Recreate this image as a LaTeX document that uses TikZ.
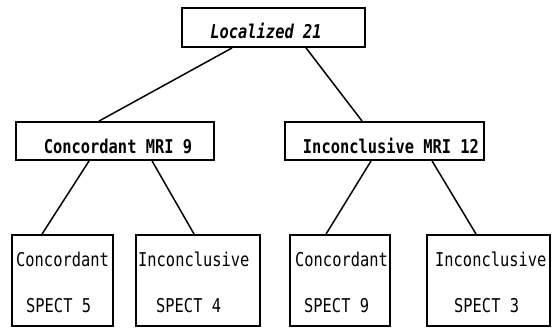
\documentclass[tikz,border=0pt]{standalone}
\usepackage{fontspec}
\newfontfamily\labfont[FakeStretch=0.81]{DejaVu Sans Mono}
\begin{document}
\begin{tikzpicture}[x=1pt,y=-1pt,
  box/.style={draw,line width=1.9pt,inner sep=0pt,anchor=center},
  conn/.style={line width=1.5pt},
  btxt/.style={inner sep=0pt,font=\labfont\bfseries\fontsize{19}{19}\selectfont},
  ltxt/.style={inner sep=0pt,anchor=west,font=\labfont\fontsize{19}{19}\selectfont}]
\useasboundingbox (0,0) rectangle (557,329);
% boxes
\node[box,minimum width=183pt,minimum height=39pt] (top) at (273.5,27.5) {};
\node[box,minimum width=198pt,minimum height=38pt] (m1) at (115,141) {};
\node[box,minimum width=199pt,minimum height=38pt] (m2) at (384.5,141) {};
\node[box,minimum width=101pt,minimum height=91pt] (b1) at (62.5,280.5) {};
\node[box,minimum width=124pt,minimum height=91pt] (b2) at (198,280.5) {};
\node[box,minimum width=100pt,minimum height=91pt] (b3) at (340,280.5) {};
\node[box,minimum width=123pt,minimum height=91pt] (b4) at (488.5,280.5) {};
% texts
\node[btxt] (ttop) at (266,31) {\itshape Localized 21};
\node[btxt] (tm1) at (118,146) {Concordant MRI 9};
\node[btxt] (tm2) at (391,146) {Inconclusive MRI 12};
\node[ltxt] (t1a) at (16,259) {Concordant};
\node[ltxt] (t1b) at (26,306) {SPECT 5};
\node[ltxt] (t2a) at (138,259) {Inconclusive};
\node[ltxt] (t2b) at (156,306) {SPECT 4};
\node[ltxt] (t3a) at (295,259) {Concordant};
\node[ltxt] (t3b) at (304,306) {SPECT 9};
\node[ltxt] (t4a) at (435,259) {Inconclusive};
\node[ltxt] (t4b) at (454,306) {SPECT 3};
% connectors
\draw[conn] ([xshift=51pt]top.south west) -- ([xshift=84pt]m1.north west);
\draw[conn] ([xshift=125pt]top.south west) -- ([xshift=78pt]m2.north west);
\draw[conn] ([xshift=74pt]m1.south west) -- ([xshift=31pt]b1.north west);
\draw[conn] ([xshift=137pt]m1.south west) -- ([xshift=59pt]b2.north west);
\draw[conn] ([xshift=87pt]m2.south west) -- ([xshift=37pt]b3.north west);
\draw[conn] ([xshift=148pt]m2.south west) -- ([xshift=50pt]b4.north west);
\end{tikzpicture}
\end{document}
